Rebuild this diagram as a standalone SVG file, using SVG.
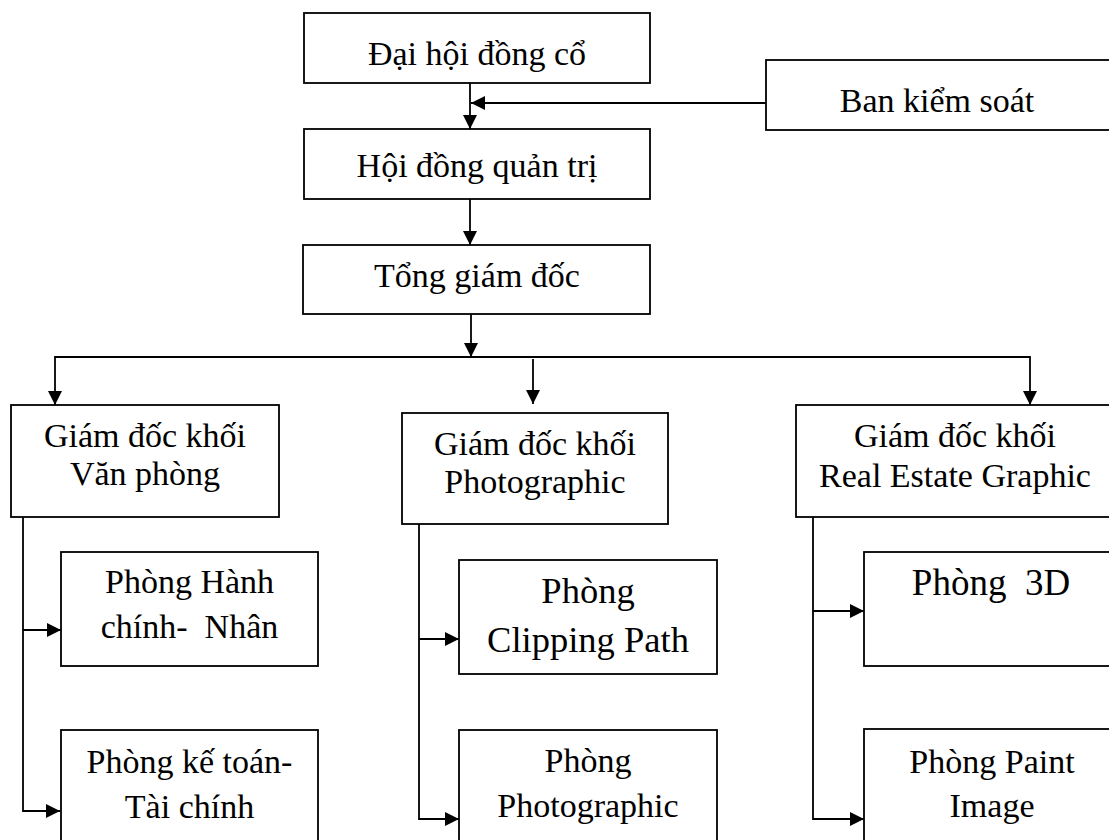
<svg xmlns="http://www.w3.org/2000/svg" width="1109" height="840" viewBox="0 0 1109 840">
<style>
.box{fill:#fff;stroke:#000;stroke-width:1.8}
.ln{fill:none;stroke:#000;stroke-width:1.8}
text{font-family:"Liberation Serif","Times New Roman",serif;font-size:34px;fill:#000;text-anchor:middle;white-space:pre}
.big{font-size:36.5px}
</style>
<defs>
<marker id="ah" markerUnits="userSpaceOnUse" markerWidth="15" markerHeight="14" refX="14" refY="7" orient="auto">
<path d="M0,0 L14,7 L0,14 z" fill="#000"/>
</marker>
</defs>
<rect width="1109" height="840" fill="#fff"/>
<g id="connectors">
<path class="ln" d="M470,83 V129" marker-end="url(#ah)"/>
<path class="ln" d="M766,103 H471" marker-end="url(#ah)"/>
<path class="ln" d="M470,199 V245" marker-end="url(#ah)"/>
<path class="ln" d="M471,314 V357" marker-end="url(#ah)"/>
<path class="ln" d="M471,357 H55 V405" marker-end="url(#ah)"/>
<path class="ln" d="M471,357 H1030 V405" marker-end="url(#ah)"/>
<path class="ln" d="M533,359 V404" marker-end="url(#ah)"/>
<path class="ln" d="M23,517 V811 H60" marker-end="url(#ah)"/>
<path class="ln" d="M23,630 H61" marker-end="url(#ah)"/>
<path class="ln" d="M419,524 V819 H459" marker-end="url(#ah)"/>
<path class="ln" d="M419,639 H459" marker-end="url(#ah)"/>
<path class="ln" d="M813,517 V819 H864" marker-end="url(#ah)"/>
<path class="ln" d="M813,611 H864" marker-end="url(#ah)"/>
</g>
<g id="dai-hoi">
<rect class="box" x="304" y="13" width="346" height="70"/>
<text x="477" y="65">Đại hội đồng cổ</text>
</g>
<g id="ban-kiem-soat">
<rect class="box" x="766" y="60" width="350" height="70"/>
<text x="937" y="112">Ban kiểm soát</text>
</g>
<g id="hoi-dong">
<rect class="box" x="304" y="129" width="346" height="70"/>
<text x="477" y="177">Hội đồng quản trị</text>
</g>
<g id="tong-giam-doc">
<rect class="box" x="303" y="245" width="347" height="69"/>
<text x="477" y="287">Tổng giám đốc</text>
</g>
<g id="gd-van-phong">
<rect class="box" x="11" y="405" width="268" height="112"/>
<text x="145" y="447">Giám đốc khối</text>
<text x="145" y="485">Văn phòng</text>
</g>
<g id="gd-photographic">
<rect class="box" x="402" y="413" width="266" height="111"/>
<text x="535" y="455">Giám đốc khối</text>
<text x="535" y="493">Photographic</text>
</g>
<g id="gd-real-estate">
<rect class="box" x="796" y="405" width="320" height="112"/>
<text x="955" y="447">Giám đốc khối</text>
<text x="955" y="487">Real Estate Graphic</text>
</g>
<g id="phong-hanh-chinh">
<rect class="box" x="61" y="552" width="257" height="114"/>
<text x="189.5" y="593">Phòng Hành</text>
<text x="189.5" y="638">chính-  Nhân</text>
</g>
<g id="phong-ke-toan">
<rect class="box" x="61" y="730" width="257" height="120"/>
<text x="189.5" y="773">Phòng kế toán-</text>
<text x="189.5" y="818">Tài chính</text>
</g>
<g id="phong-clipping">
<rect class="box" x="459" y="560" width="258" height="114"/>
<text class="big" x="588" y="603">Phòng</text>
<text class="big" x="588" y="652">Clipping Path</text>
</g>
<g id="phong-photographic">
<rect class="box" x="459" y="730" width="258" height="120"/>
<text x="588" y="772">Phòng</text>
<text x="588" y="817">Photographic</text>
</g>
<g id="phong-3d">
<rect class="box" x="864" y="552" width="260" height="114"/>
<text x="991" y="595" style="font-size:37px">Phòng  3D</text>
</g>
<g id="phong-paint">
<rect class="box" x="864" y="729" width="260" height="120"/>
<text x="992" y="773">Phòng Paint</text>
<text x="992" y="817">Image</text>
</g>
</svg>
